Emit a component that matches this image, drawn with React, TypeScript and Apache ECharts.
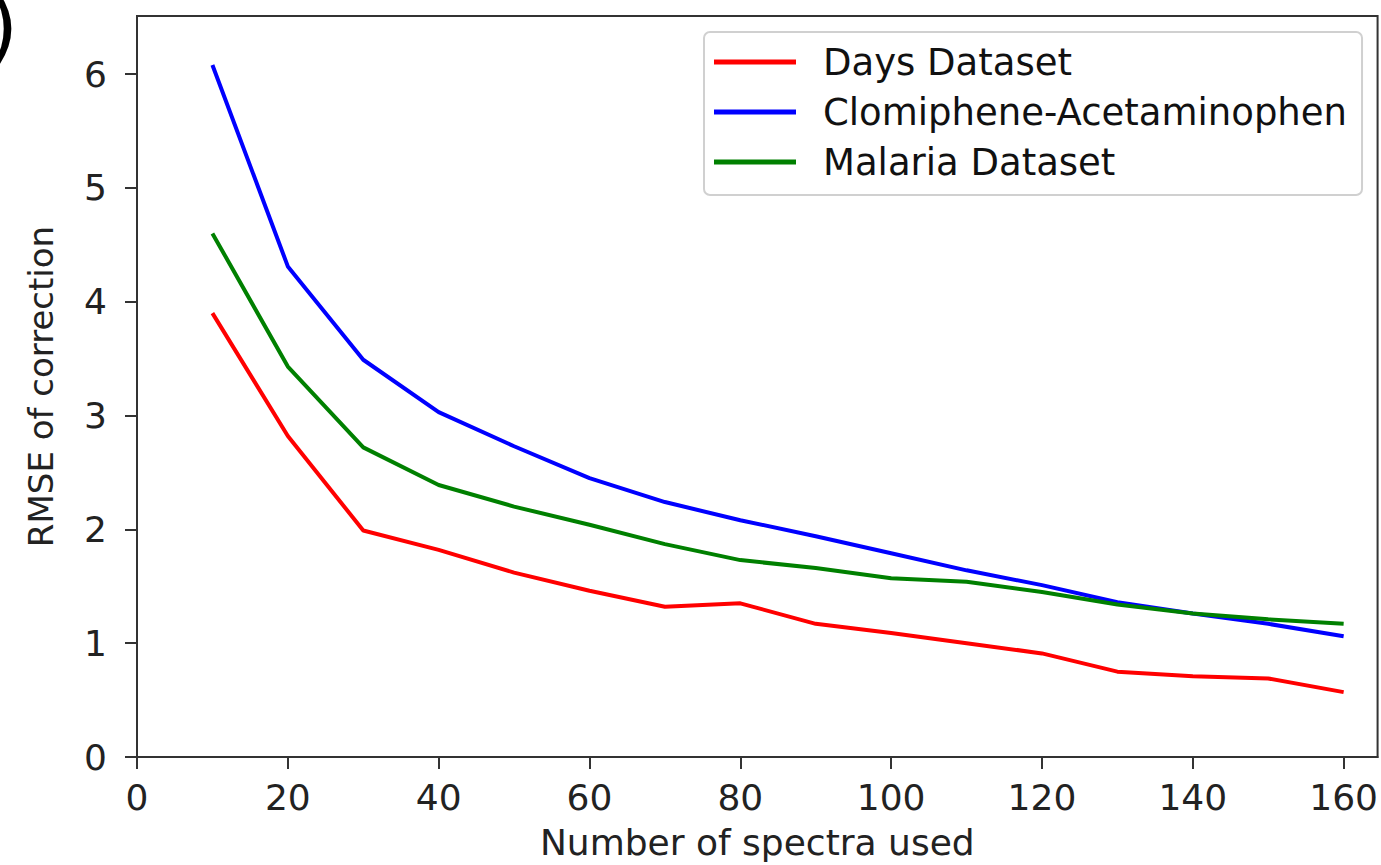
import React, { useEffect, useRef } from "react";
import * as echarts from "echarts";

const spectraUsed = [10, 20, 30, 40, 50, 60, 70, 80, 90, 100, 110, 120, 130, 140, 150, 160];
const daysDataset = [3.9, 2.82, 1.99, 1.82, 1.62, 1.46, 1.32, 1.35, 1.17, 1.09, 1.0, 0.91, 0.75, 0.71, 0.69, 0.57];
const clomipheneAcetaminophen = [6.08, 4.31, 3.49, 3.03, 2.73, 2.45, 2.24, 2.08, 1.94, 1.79, 1.64, 1.51, 1.36, 1.26, 1.17, 1.06];
const malariaDataset = [4.6, 3.43, 2.72, 2.39, 2.2, 2.04, 1.87, 1.73, 1.66, 1.57, 1.54, 1.45, 1.34, 1.26, 1.21, 1.17];
const xTicks = [0, 20, 40, 60, 80, 100, 120, 140, 160];
const yTicks = [0, 1, 2, 3, 4, 5, 6];
const seriesNames = ["Days Dataset", "Clomiphene-Acetaminophen", "Malaria Dataset"];
const seriesColors = ["#ff0000", "#0000ff", "#008000"];

const FONT = "DejaVu Sans";

export default function App() {
  const ref = useRef<HTMLDivElement>(null);
  useEffect(() => {
    if (!ref.current) return;
    const chart = echarts.init(ref.current, undefined, { renderer: "svg" });
    const all = [daysDataset, clomipheneAcetaminophen, malariaDataset];
    chart.setOption({
      animation: false,
      backgroundColor: "#ffffff",
      grid: {
        left: 137,
        right: 1,
        top: 16,
        bottom: 108,
        show: true,
        borderColor: "#333333",
        borderWidth: 2,
        backgroundColor: "transparent",
      },
      xAxis: {
        type: "value",
        min: 0,
        max: 164.5,
        name: "Number of spectra used",
        nameLocation: "middle",
        nameGap: 67,
        nameTextStyle: { fontFamily: FONT, fontSize: 36, color: "#222" },
        axisLine: { show: true, lineStyle: { color: "#333", width: 2 } },
        axisTick: {
          show: true,
          length: 12,
          customValues: xTicks,
          lineStyle: { color: "#333", width: 2 },
        },
        axisLabel: {
          customValues: xTicks,
          margin: 22,
          fontFamily: FONT,
          fontSize: 36,
          color: "#222",
        },
        splitLine: { show: false },
      },
      yAxis: {
        type: "value",
        min: 0,
        max: 6.51,
        name: "RMSE of correction",
        nameLocation: "middle",
        nameGap: 79,
        nameTextStyle: { fontFamily: FONT, fontSize: 34, color: "#222" },
        axisLine: { show: true, lineStyle: { color: "#333", width: 2 } },
        axisTick: {
          show: true,
          length: 12,
          customValues: yTicks,
          lineStyle: { color: "#333", width: 2 },
        },
        axisLabel: {
          customValues: yTicks,
          margin: 30,
          fontFamily: FONT,
          fontSize: 36,
          color: "#222",
        },
        splitLine: { show: false },
      },
      legend: {
        orient: "vertical",
        left: 704,
        top: 32,
        padding: [10, 15, 13, 10],
        itemWidth: 82,
        itemHeight: 5,
        itemGap: 10,
        icon: "rect",
        borderColor: "#d0d0d0",
        borderWidth: 2,
        borderRadius: 6,
        backgroundColor: "rgba(255,255,255,0.85)",
        textStyle: {
          fontFamily: FONT,
          fontSize: 37,
          lineHeight: 40,
          color: "#111",
          padding: [0, 0, 0, 22],
        },
        data: seriesNames,
      },
      graphic: [
        {
          type: "text",
          left: -13,
          top: -14,
          style: {
            text: ")",
            fontFamily: FONT,
            fontSize: 80,
            fill: "#000",
          },
        },
      ],
      series: seriesNames.map((name, i) => ({
        name,
        type: "line",
        symbol: "none",
        color: seriesColors[i],
        lineStyle: { color: seriesColors[i], width: 4 },
        data: spectraUsed.map((x, j) => [x, all[i][j]]),
      })),
    });
    return () => chart.dispose();
  }, []);
  return (
    <div
      ref={ref}
      style={{ position: "fixed", left: 0, top: 0, width: 1381, height: 865, background: "#fff" }}
    />
  );
}
